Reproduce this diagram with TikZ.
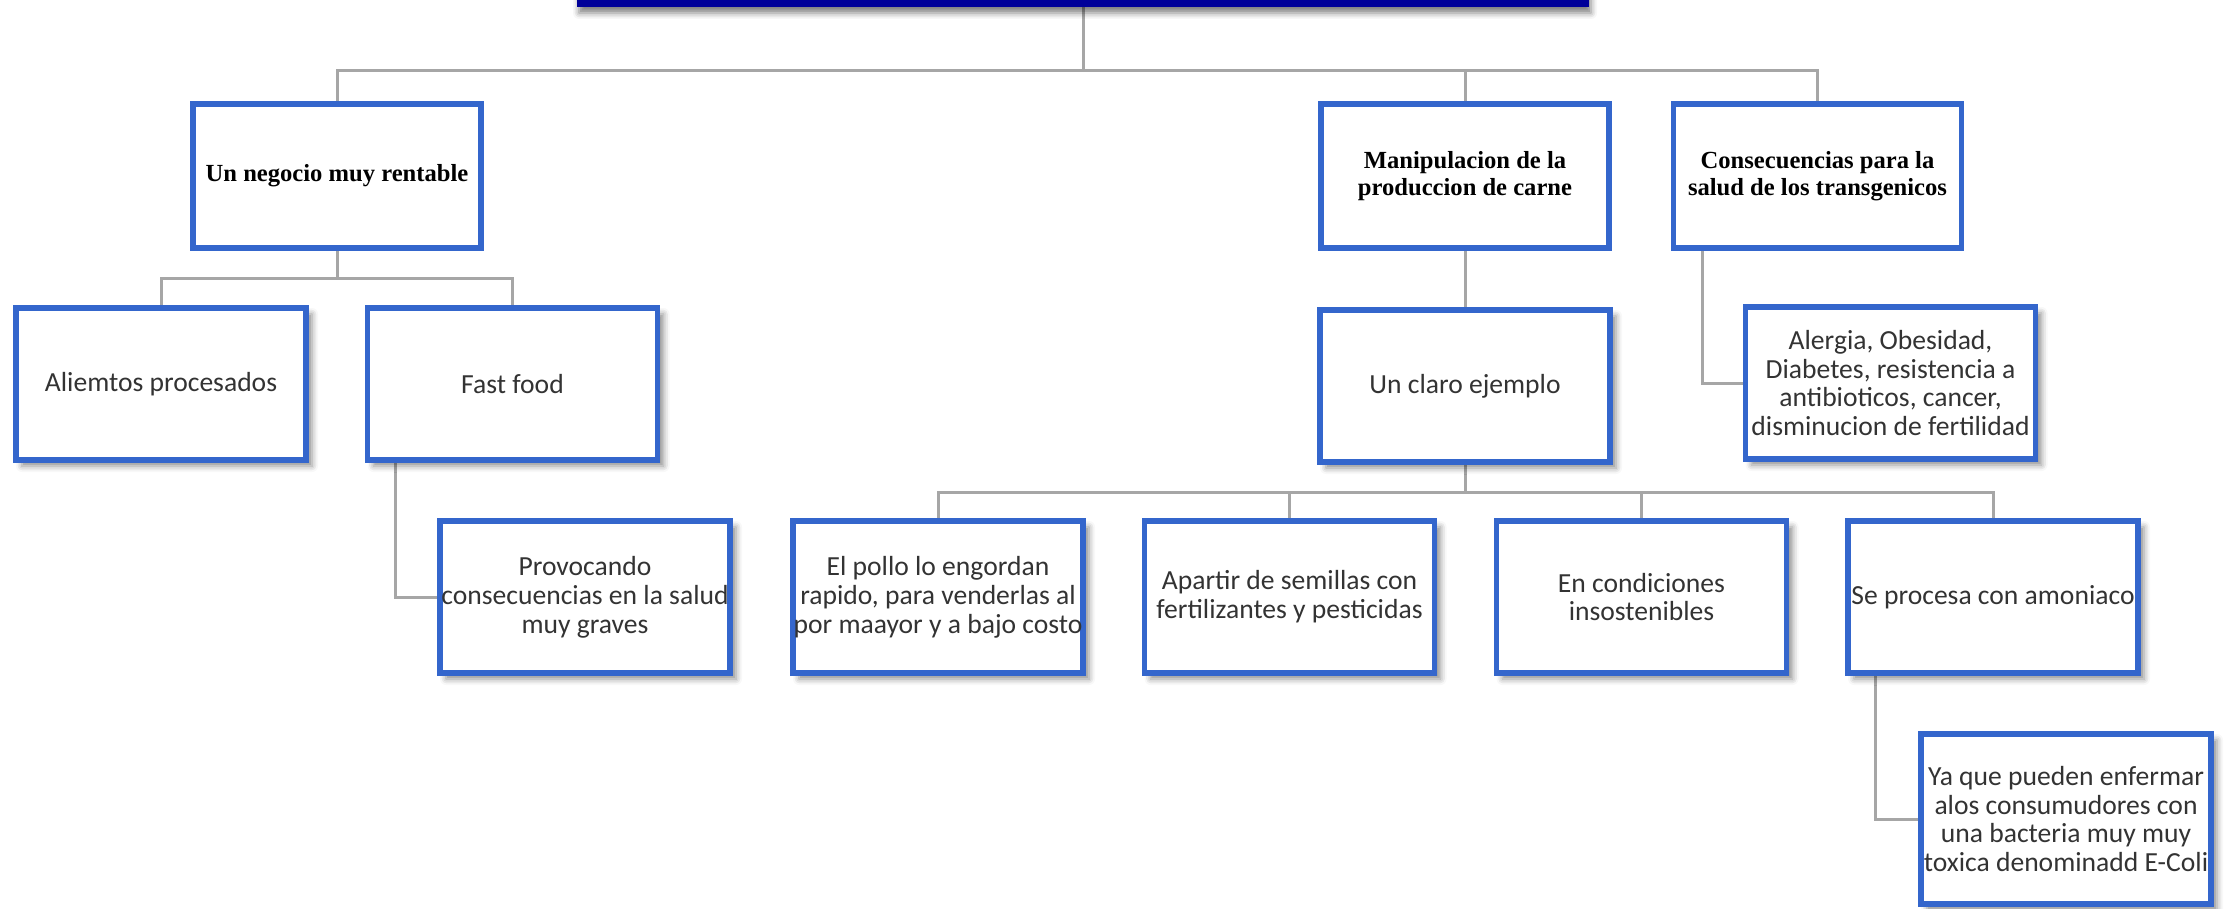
\documentclass[tikz,border=0pt]{standalone}
\usepackage{fontspec}
\setmainfont{Carlito}
\newfontfamily\headfont{Liberation Serif}
\usetikzlibrary{shadows.blur,backgrounds}
\definecolor{boxblue}{HTML}{3466CC}
\definecolor{navy}{HTML}{000099}
\definecolor{linkgray}{HTML}{A6A6A6}

\begin{document}
\begin{tikzpicture}[x=0.5pt, y=-0.5pt, node distance=105pt,
	banner/.style = {fill=navy, inner sep=0pt, minimum width=506pt, minimum height=47pt, blur shadow={shadow xshift=1pt, shadow yshift=-3pt, shadow blur radius=3pt, shadow opacity=50}},
	head/.style = {draw=boxblue, line width=2.75pt, fill=white, inner sep=0pt, minimum width=144pt, minimum height=72pt, align=center, font=\headfont\bfseries\fontsize{12.3}{13.4}\selectfont},
	box/.style = {draw=boxblue, line width=2.75pt, fill=white, inner sep=0pt, minimum width=145pt, minimum height=76pt, align=center, text=black!80, font=\fontsize{13.8}{14.4}\selectfont, blur shadow={shadow xshift=3pt, shadow yshift=-3pt, shadow blur radius=3pt, shadow opacity=45}},
	link/.style = {draw=linkgray, line width=1.5pt}]
	\useasboundingbox (0,0) rectangle (2230,909);
	\clip (0,0) rectangle (2230,909);
	\node[banner] (0) at (1083,-40) {};
	% first level
	\node[head] (1) at (337,176) {Un negocio muy rentable};
	\node[head] (2) at (1465,176) {Manipulacion de la\\produccion de carne};
	\node[head] (3) at (1817.5,176) {Consecuencias para la\\salud de los transgenicos};
	% second level
	\node[box] (4) at (161,384) {Aliemtos procesados};
	\node[box] (5) at (512.5,384) {Fast food};
	\node[box] (6) [below of=2] {Un claro ejemplo};
	\node[box] (7) at (1890.5,383) {Alergia, Obesidad,\\Diabetes, resistencia a\\antibioticos, cancer,\\disminucion de fertilidad};
	% third level
	\node[box] (8) at (585,597) {Provocando\\consecuencias en la salud\\muy graves};
	\node[box] (9) at (938,597) {El pollo lo engordan\\rapido, para venderlas al\\por maayor y a bajo costo};
	\node[box] (10) at (1289.5,597) {Apartir de semillas con\\fertilizantes y pesticidas};
	\node[box] (11) at (1641.5,597) {En condiciones\\insostenibles};
	\node[box] (12) at (1993,597) {Se procesa con amoniaco};
	\node[box, minimum height=85pt] (13) at (2066,819) {Ya que pueden enfermar\\alos consumudores con\\una bacteria muy muy\\toxica denominadd E-Coli};
	% connectors
	\begin{scope}[on background layer]
		\draw[link] (0.south) -- ++(0,63.5) coordinate (b0);
		\draw[link] (1.north) |- (b0) -| (3.north);
		\draw[link] (2.north) -- (2.north |- b0);
		\draw[link] (1.south) -- ++(0,28) coordinate (b1) -| (4.north);
		\draw[link] (b1) -| (5.north);
		\draw[link] ([xshift=15.5pt]5.south west) |- (8.west);
		\draw[link] (2) -- (6);
		\draw[link] ([xshift=16pt]3.south west) |- (7.west);
		\draw[link] (6.south) -- ++(0,28) coordinate (b6) -| (9.north);
		\draw[link] (b6) -| (12.north);
		\draw[link] (10.north) -- (10.north |- b6);
		\draw[link] (11.north) -- (11.north |- b6);
		\draw[link] ([xshift=15pt]12.south west) |- (13.west);
	\end{scope}
\end{tikzpicture}
\end{document}
